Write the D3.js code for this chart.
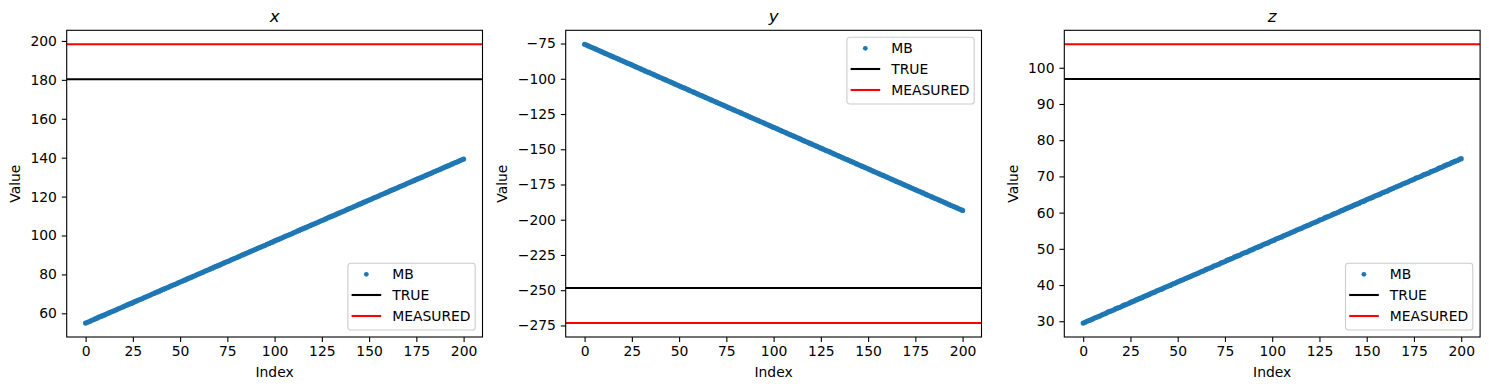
<!DOCTYPE html>
<html>
<head>
<meta charset="utf-8">
<script src="https://cdn.jsdelivr.net/npm/d3@7"></script>
<style>
  html, body { margin: 0; padding: 0; background: #fff; }
  svg { display: block; font-family: "DejaVu Sans", sans-serif; }
</style>
</head>
<body>
<svg id="chart" width="1489" height="390"></svg>
<script>
// ---------------- data ----------------
const panelTitles = ["x", "y", "z"];
const legendLabels = ["MB", "TRUE", "MEASURED"];
const indexValues = d3.range(0, 201);
const xTickValues = [0, 25, 50, 75, 100, 125, 150, 175, 200];
const yTicksX = [60, 80, 100, 120, 140, 160, 180, 200];
const yTicksY = [-275, -250, -225, -200, -175, -150, -125, -100, -75];
const yTicksZ = [30, 40, 50, 60, 70, 80, 90, 100];

const trueX = 180.3, measuredX = 198.3;
const trueY = -248.4, measuredY = -273.3;
const trueZ = 96.9, measuredZ = 106.5;

const mbX = [55.0,55.4,55.8,56.3,56.7,57.1,57.5,58.0,58.4,58.8,59.2,59.6,60.1,60.5,60.9,61.3,61.7,62.2,62.6,63.0,
63.4,63.9,64.3,64.7,65.1,65.5,66.0,66.4,66.8,67.2,67.6,68.1,68.5,68.9,69.3,69.8,70.2,70.6,71.0,71.4,
71.9,72.3,72.7,73.1,73.5,74.0,74.4,74.8,75.2,75.7,76.1,76.5,76.9,77.3,77.8,78.2,78.6,79.0,79.4,79.9,
80.3,80.7,81.1,81.6,82.0,82.4,82.8,83.2,83.7,84.1,84.5,84.9,85.3,85.8,86.2,86.6,87.0,87.5,87.9,88.3,
88.7,89.1,89.6,90.0,90.4,90.8,91.2,91.7,92.1,92.5,92.9,93.4,93.8,94.2,94.6,95.0,95.5,95.9,96.3,96.7,
97.2,97.6,98.0,98.4,98.8,99.3,99.7,100.1,100.5,100.9,101.4,101.8,102.2,102.6,103.1,103.5,103.9,104.3,104.7,105.2,
105.6,106.0,106.4,106.8,107.3,107.7,108.1,108.5,109.0,109.4,109.8,110.2,110.6,111.1,111.5,111.9,112.3,112.7,113.2,113.6,
114.0,114.4,114.9,115.3,115.7,116.1,116.5,117.0,117.4,117.8,118.2,118.6,119.1,119.5,119.9,120.3,120.8,121.2,121.6,122.0,
122.4,122.9,123.3,123.7,124.1,124.5,125.0,125.4,125.8,126.2,126.7,127.1,127.5,127.9,128.3,128.8,129.2,129.6,130.0,130.4,
130.9,131.3,131.7,132.1,132.6,133.0,133.4,133.8,134.2,134.7,135.1,135.5,135.9,136.3,136.8,137.2,137.6,138.0,138.5,138.9,
139.3];

const mbY = [-75.5,-76.1,-76.7,-77.3,-77.9,-78.4,-79.0,-79.6,-80.2,-80.8,-81.4,-82.0,-82.6,-83.2,-83.8,-84.3,-84.9,-85.5,-86.1,-86.7,
-87.3,-87.9,-88.5,-89.1,-89.6,-90.2,-90.8,-91.4,-92.0,-92.6,-93.2,-93.8,-94.4,-95.0,-95.5,-96.1,-96.7,-97.3,-97.9,-98.5,
-99.1,-99.7,-100.3,-100.8,-101.4,-102.0,-102.6,-103.2,-103.8,-104.4,-105.0,-105.6,-106.2,-106.7,-107.3,-107.9,-108.5,-109.1,-109.7,-110.3,
-110.9,-111.5,-112.0,-112.6,-113.2,-113.8,-114.4,-115.0,-115.6,-116.2,-116.8,-117.4,-117.9,-118.5,-119.1,-119.7,-120.3,-120.9,-121.5,-122.1,
-122.7,-123.2,-123.8,-124.4,-125.0,-125.6,-126.2,-126.8,-127.4,-128.0,-128.6,-129.1,-129.7,-130.3,-130.9,-131.5,-132.1,-132.7,-133.3,-133.9,
-134.5,-135.0,-135.6,-136.2,-136.8,-137.4,-138.0,-138.6,-139.2,-139.8,-140.3,-140.9,-141.5,-142.1,-142.7,-143.3,-143.9,-144.5,-145.1,-145.7,
-146.2,-146.8,-147.4,-148.0,-148.6,-149.2,-149.8,-150.4,-151.0,-151.5,-152.1,-152.7,-153.3,-153.9,-154.5,-155.1,-155.7,-156.3,-156.9,-157.4,
-158.0,-158.6,-159.2,-159.8,-160.4,-161.0,-161.6,-162.2,-162.7,-163.3,-163.9,-164.5,-165.1,-165.7,-166.3,-166.9,-167.5,-168.1,-168.6,-169.2,
-169.8,-170.4,-171.0,-171.6,-172.2,-172.8,-173.4,-173.9,-174.5,-175.1,-175.7,-176.3,-176.9,-177.5,-178.1,-178.7,-179.3,-179.8,-180.4,-181.0,
-181.6,-182.2,-182.8,-183.4,-184.0,-184.6,-185.1,-185.7,-186.3,-186.9,-187.5,-188.1,-188.7,-189.3,-189.9,-190.5,-191.0,-191.6,-192.2,-192.8,
-193.4];

const mbZ = [29.5,29.7,30.0,30.2,30.4,30.6,30.9,31.1,31.3,31.5,31.8,32.0,32.2,32.5,32.7,32.9,33.1,33.4,33.6,33.8,
34.0,34.3,34.5,34.7,34.9,35.2,35.4,35.6,35.9,36.1,36.3,36.5,36.8,37.0,37.2,37.4,37.7,37.9,38.1,38.4,
38.6,38.8,39.0,39.3,39.5,39.7,39.9,40.2,40.4,40.6,40.9,41.1,41.3,41.5,41.8,42.0,42.2,42.4,42.7,42.9,
43.1,43.3,43.6,43.8,44.0,44.3,44.5,44.7,44.9,45.2,45.4,45.6,45.8,46.1,46.3,46.5,46.8,47.0,47.2,47.4,
47.7,47.9,48.1,48.3,48.6,48.8,49.0,49.2,49.5,49.7,49.9,50.2,50.4,50.6,50.8,51.1,51.3,51.5,51.7,52.0,
52.2,52.4,52.7,52.9,53.1,53.3,53.6,53.8,54.0,54.2,54.5,54.7,54.9,55.2,55.4,55.6,55.8,56.1,56.3,56.5,
56.7,57.0,57.2,57.4,57.6,57.9,58.1,58.3,58.6,58.8,59.0,59.2,59.5,59.7,59.9,60.1,60.4,60.6,60.8,61.1,
61.3,61.5,61.7,62.0,62.2,62.4,62.6,62.9,63.1,63.3,63.6,63.8,64.0,64.2,64.5,64.7,64.9,65.1,65.4,65.6,
65.8,66.0,66.3,66.5,66.7,67.0,67.2,67.4,67.6,67.9,68.1,68.3,68.5,68.8,69.0,69.2,69.5,69.7,69.9,70.1,
70.4,70.6,70.8,71.0,71.3,71.5,71.7,71.9,72.2,72.4,72.6,72.9,73.1,73.3,73.5,73.8,74.0,74.2,74.4,74.7,
74.9];

// ---------------- layout / style ----------------
const panels = [
  { title: panelTitles[0], mb: mbX, tru: trueX, meas: measuredX, yTicks: yTicksX, left: 66.7, ylabX: 15, legend: "br" },
  { title: panelTitles[1], mb: mbY, tru: trueY, meas: measuredY, yTicks: yTicksY, left: 565.7, ylabX: 502.3, legend: "tr" },
  { title: panelTitles[2], mb: mbZ, tru: trueZ, meas: measuredZ, yTicks: yTicksZ, left: 1064.3, ylabX: 1013.3, legend: "br" }
];
const axW = 415.8, axTop = 30.3, axBottom = 337;
const FS = 13.9;
const blue = "#1f77b4";
const svg = d3.select("#chart");
const fmt = d => (d < 0 ? "\u2212" + Math.abs(d) : String(d));

panels.forEach(p => {
  const g = svg.append("g");
  const x = d3.scaleLinear().domain([-10, 210]).range([p.left, p.left + axW]);
  const all = p.mb.concat([p.tru, p.meas]);
  const [lo, hi] = d3.extent(all);
  const m = (hi - lo) * 0.05;
  const y = d3.scaleLinear().domain([lo - m, hi + m]).range([axBottom, axTop]);

  // clip
  const cid = "clip" + p.title;
  svg.append("clipPath").attr("id", cid).append("rect")
    .attr("x", p.left).attr("y", axTop).attr("width", axW).attr("height", axBottom - axTop);

  const plot = g.append("g").attr("clip-path", `url(#${cid})`);
  plot.selectAll("circle").data(indexValues).join("circle")
    .attr("cx", i => x(i)).attr("cy", i => y(p.mb[i])).attr("r", 2.6).attr("fill", blue);
  plot.append("line").attr("x1", p.left).attr("x2", p.left + axW)
    .attr("y1", y(p.tru)).attr("y2", y(p.tru)).attr("stroke", "#000").attr("stroke-width", 2.08);
  plot.append("line").attr("x1", p.left).attr("x2", p.left + axW)
    .attr("y1", y(p.meas)).attr("y2", y(p.meas)).attr("stroke", "#ff0000").attr("stroke-width", 2.08);

  // axes
  const xa = g.append("g").attr("transform", `translate(0,${axBottom})`)
    .call(d3.axisBottom(x).tickValues(xTickValues).tickSize(4.9).tickPadding(4.4).tickFormat(fmt));
  const ya = g.append("g").attr("transform", `translate(${p.left},0)`)
    .call(d3.axisLeft(y).tickValues(p.yTicks).tickSize(4.9).tickPadding(4.9).tickFormat(fmt));
  [xa, ya].forEach(a => {
    a.select(".domain").remove();
    a.selectAll("line").attr("stroke", "#000").attr("stroke-width", 1.1);
    a.selectAll("text").attr("font-size", FS).attr("fill", "#000").attr("font-family", "DejaVu Sans");
  });

  // frame
  g.append("rect").attr("x", p.left).attr("y", axTop).attr("width", axW).attr("height", axBottom - axTop)
    .attr("fill", "none").attr("stroke", "#000").attr("stroke-width", 1.1);

  // titles & labels
  g.append("text").attr("x", p.left + axW / 2).attr("y", 22).attr("text-anchor", "middle")
    .attr("font-size", 16.7).attr("font-style", "italic").text(p.title);
  g.append("text").attr("x", p.left + axW / 2).attr("y", 376.5).attr("text-anchor", "middle")
    .attr("font-size", FS).text("Index");
  g.append("text").attr("transform", `translate(${p.ylabX},${(axTop + axBottom) / 2}) rotate(-90)`)
    .attr("text-anchor", "middle").attr("dominant-baseline", "central").attr("font-size", FS).text("Value");

  // legend
  const lw = 127.3, lh = 66.7;
  const lx = p.left + axW - 7.3 - lw;
  const ly = p.legend === "br" ? axBottom - 7 - lh : axTop + 7;
  const lg = g.append("g").attr("transform", `translate(${lx},${ly})`);
  lg.append("rect").attr("width", lw).attr("height", lh).attr("rx", 2.8)
    .attr("fill", "#fff").attr("fill-opacity", 0.8).attr("stroke", "#cccccc").attr("stroke-width", 1.1);
  const rows = [11, 31.7, 52.7];
  legendLabels.forEach((lab, k) => {
    const ry = rows[k];
    if (k === 0) {
      lg.append("circle").attr("cx", 18.4).attr("cy", ry).attr("r", 2.4).attr("fill", blue);
    } else {
      lg.append("line").attr("x1", 3.7).attr("x2", 33.3).attr("y1", ry).attr("y2", ry)
        .attr("stroke", k === 1 ? "#000" : "#ff0000").attr("stroke-width", 2.08);
    }
    lg.append("text").attr("x", 44.3).attr("y", ry).attr("dy", "0.36em")
      .attr("font-size", FS).text(lab);
  });
});
</script>
</body>
</html>
